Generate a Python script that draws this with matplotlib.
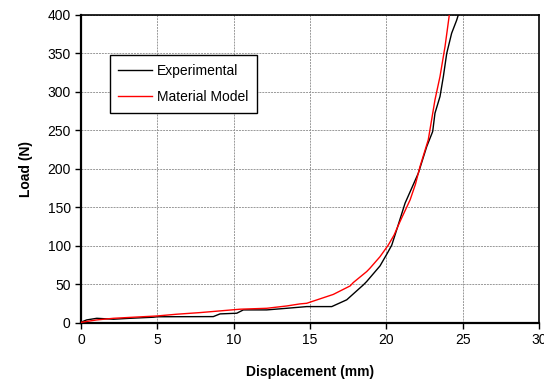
import matplotlib
matplotlib.use("Agg")
import matplotlib.pyplot as plt

plt.rcParams['font.family'] = ['Liberation Sans', 'DejaVu Sans']

# Experimental load-displacement record
exp_disp = [0.0, 0.37, 1.03, 2.12, 3.2, 4.73, 5.0, 8.66, 9.1, 10.2, 10.63, 12.16,
            13.47, 14.78, 16.42, 17.4, 18.49, 18.7, 19.58, 20.06, 20.35, 20.67,
            21.22, 22.09, 22.64, 23.03, 23.18, 23.51, 23.73, 23.95, 24.27, 24.6, 24.71]
exp_load = [1.0, 3.9, 6.0, 4.8, 6.0, 7.4, 8.0, 8.2, 11.7, 12.6, 16.9, 16.9,
            19.0, 21.2, 21.2, 30.0, 49.4, 53.6, 74.0, 90.5, 101.0, 120.8,
            155.4, 194.4, 229.0, 248.5, 272.3, 294.0, 320.0, 350.0, 376.0, 393.0, 400.0]

# Material model prediction
mod_disp = [0.04, 1.03, 2.12, 3.42, 4.96, 6.27, 7.79, 9.1, 10.41, 12.16, 13.47,
            14.34, 14.78, 16.52, 17.62, 17.83, 18.71, 18.92, 19.58, 20.12, 20.5,
            20.89, 21.55, 21.9, 22.2, 22.74, 23.18, 23.51, 23.84, 24.12]
mod_load = [0.9, 3.9, 6.0, 7.4, 9.0, 11.3, 13.4, 15.6, 17.8, 19.0, 22.0,
            24.7, 25.5, 37.0, 48.0, 52.4, 66.7, 71.0, 86.0, 101.0, 114.0,
            131.6, 159.7, 180.0, 203.0, 237.7, 289.6, 320.0, 359.0, 400.0]

x_ticks = [0, 5, 10, 15, 20, 25, 30]
y_ticks = [0, 50, 100, 150, 200, 250, 300, 350, 400]

fig = plt.figure(figsize=(5.44, 3.90), dpi=100)
ax = fig.add_axes([0.149, 0.172, 0.842, 0.790])

ax.plot(exp_disp, exp_load, color='black', lw=1.0, label='Experimental', zorder=3)
ax.plot(mod_disp, mod_load, color='#ff0000', lw=1.0, label='Material Model', zorder=4)

ax.set_xlim(0, 30)
ax.set_ylim(0, 400)
ax.set_xticks(x_ticks)
ax.set_yticks(y_ticks)
ax.grid(True, color='#999999', linestyle=(0, (2, 1)), linewidth=0.7)
ax.set_axisbelow(True)
ax.tick_params(direction='out', length=4, width=1, labelsize=10, colors='black')

for s in ['left', 'bottom']:
    ax.spines[s].set_linewidth(1.6)
for s in ['top', 'right']:
    ax.spines[s].set_linewidth(1.2)

ax.set_xlabel('Displacement (mm)', fontsize=10, fontweight='bold', labelpad=13)
ax.set_ylabel('Load (N)', fontsize=10, fontweight='bold', labelpad=10)

leg = ax.legend(loc='upper left', bbox_to_anchor=(0.063, 0.868), fontsize=10,
                frameon=True, fancybox=False, edgecolor='black', framealpha=1,
                handlelength=2.4, handletextpad=0.4, borderpad=0.6,
                labelspacing=0.9, borderaxespad=0)
leg.get_frame().set_linewidth(1.0)

fig.savefig('out.png', dpi=100)
